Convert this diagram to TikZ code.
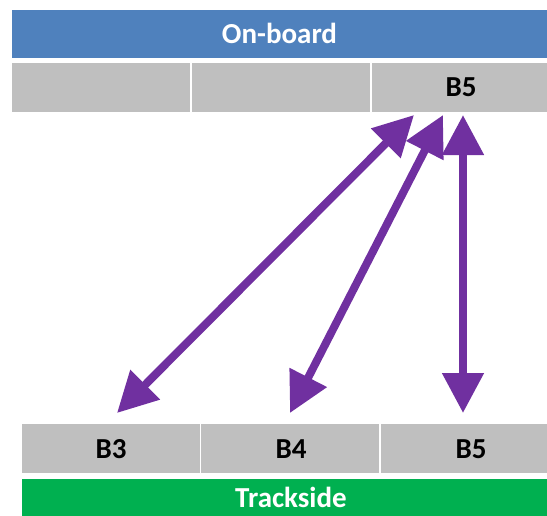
\documentclass[tikz,border=0pt]{standalone}
\usepackage{fontspec}
\setmainfont{Carlito}
\usetikzlibrary{arrows.meta}
\definecolor{barblue}{HTML}{4F81BD}
\definecolor{cellgray}{HTML}{BFBFBF}
\definecolor{bargreen}{HTML}{00B050}
\definecolor{arrowpurple}{HTML}{7030A0}
\tikzset{
  bar/.style={rectangle, draw=none, inner sep=0pt, outer sep=0pt, font=\fontsize{29}{32}\selectfont\bfseries, text=white},
  cell/.style={rectangle, fill=cellgray, draw=none, inner sep=0pt, outer sep=0pt},
  lab/.style={font=\fontsize{29}{32}\selectfont\bfseries, text=black, inner sep=0pt},
  link/.style={draw=arrowpurple, line width=8pt, {Triangle[length=40pt,width=40pt]}-{Triangle[length=40pt,width=40pt]}}
}
\begin{document}
\begin{tikzpicture}[x=1pt,y=-1pt]
\useasboundingbox (0,0) rectangle (547,515);
% top
\node[bar, fill=barblue, minimum width=536pt, minimum height=48pt, anchor=north west] (onboard) at (11.5,9.5) {On-board};
\node[cell, minimum width=178.5pt, minimum height=49pt, anchor=north west] (t1) at (11.5,62.8) {};
\node[cell, minimum width=178.5pt, minimum height=49pt, anchor=north west] (t2) at (191.5,62.8) {};
\node[cell, minimum width=175pt, minimum height=49pt, anchor=north west] (t3) at (372,62.8) {};
\node[lab] (t3lab) at (461,87.5) {B5};
% bottom
\node[cell, minimum width=178pt, minimum height=49pt, anchor=north west] (b1) at (21.6,424.4) {};
\node[cell, minimum width=178pt, minimum height=49pt, anchor=north west] (b2) at (201.2,424.4) {};
\node[cell, minimum width=166pt, minimum height=49pt, anchor=north west] (b3) at (381,424.4) {};
\node[lab] (b1lab) at (111,449) {B3};
\node[lab] (b2lab) at (291,449) {B4};
\node[lab] (b3lab) at (471,449) {B5};
\node[bar, fill=bargreen, minimum width=526pt, minimum height=40pt, anchor=north west] (trackside) at (21.6,478.5) {};
\node[bar] (tracklab) at (291,497) {Trackside};
% arrow endpoints
\coordinate (a1s) at (117,413);
\coordinate (a1e) at (414,115);
\coordinate (a2s) at (290,413);
\coordinate (a2e) at (443,115);
\coordinate (a3s) at (463,413);
\coordinate (a3e) at (463,115);
\draw[link] (a1s) -- (a1e);
\draw[link] (a2s) -- (a2e);
\draw[link] (a3s) -- (a3e);
\end{tikzpicture}
\end{document}
